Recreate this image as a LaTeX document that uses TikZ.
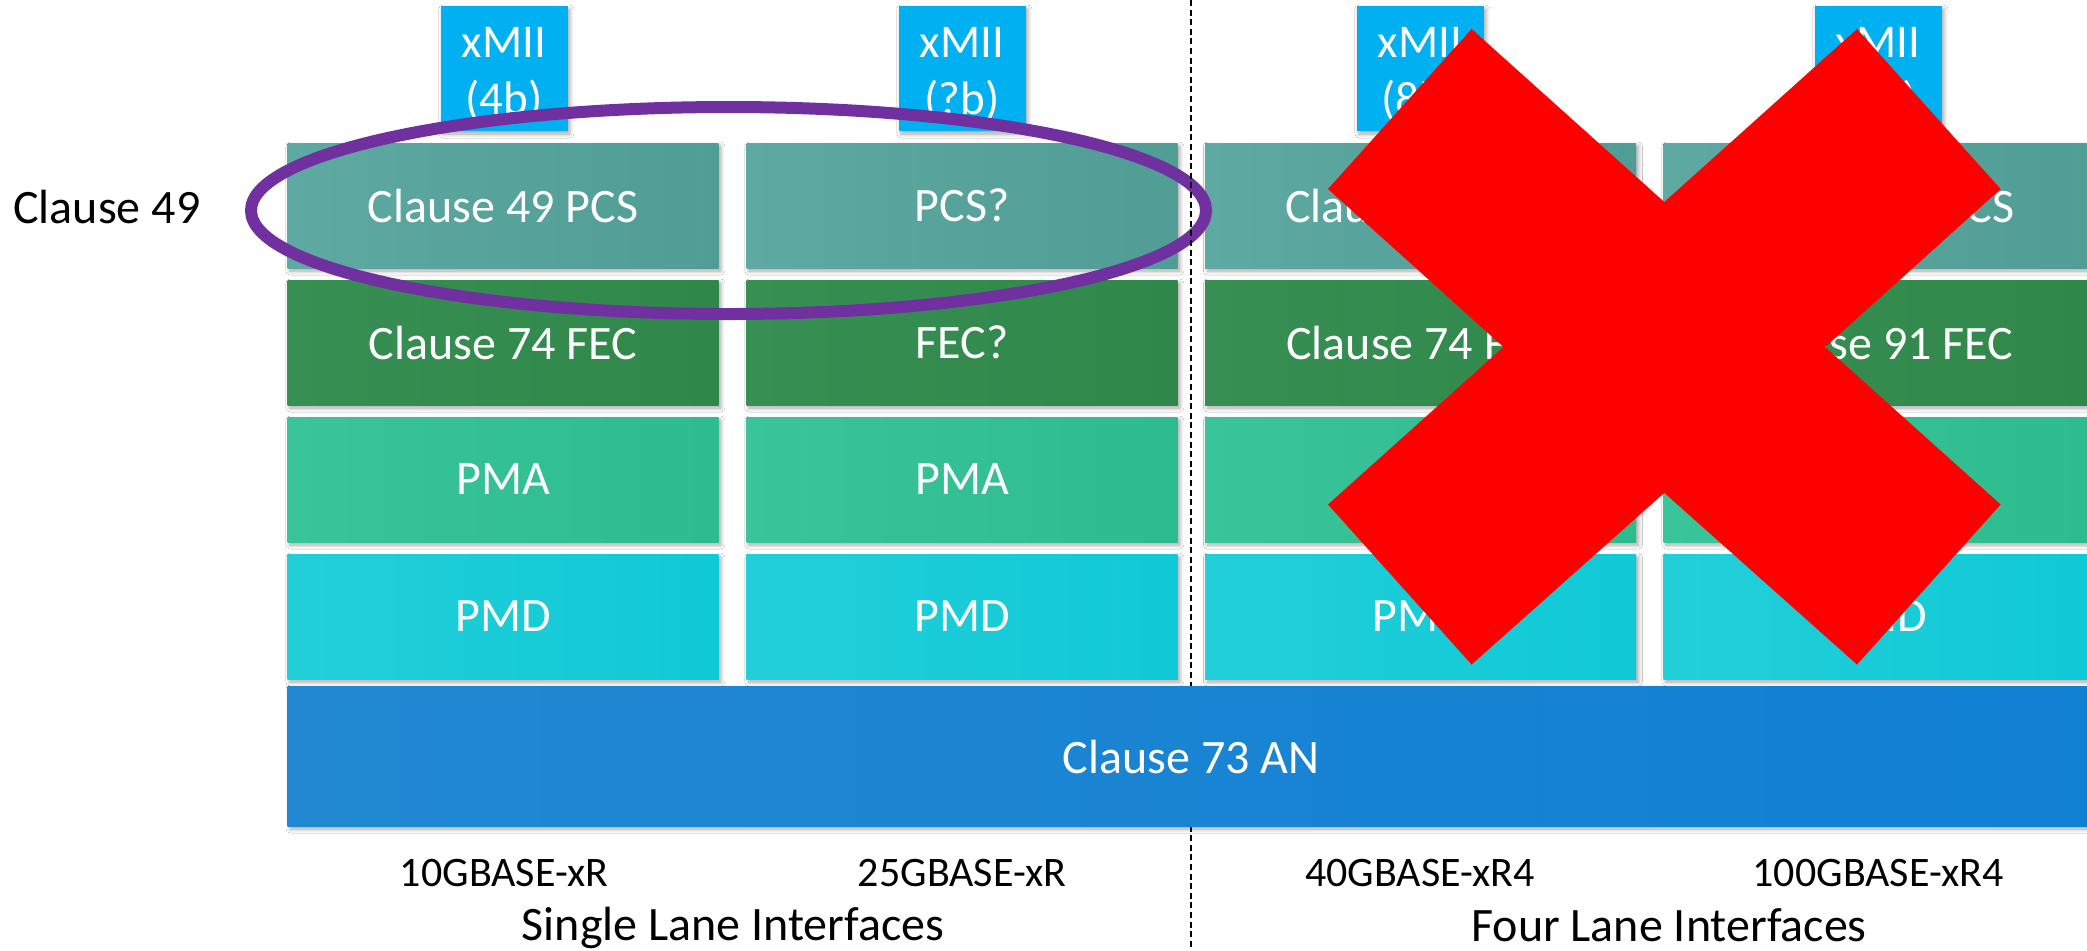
\documentclass[tikz,border=0pt]{standalone}
\usepackage{fontspec}
\setmainfont{Carlito}
\usetikzlibrary{shadows,shadows.blur,shapes.geometric}
\definecolor{xmiiC}{HTML}{00B0F0}
\definecolor{pcsL}{HTML}{5EA9A2}
\definecolor{pcsR}{HTML}{509D96}
\definecolor{fecL}{HTML}{388F53}
\definecolor{fecR}{HTML}{30874A}
\definecolor{pmaL}{HTML}{3AC499}
\definecolor{pmaR}{HTML}{2DBC8E}
\definecolor{pmdL}{HTML}{22CFD9}
\definecolor{pmdR}{HTML}{10C9D6}
\definecolor{anL}{HTML}{2288D2}
\definecolor{anR}{HTML}{1080D3}
\definecolor{ovalC}{HTML}{7030A0}
\definecolor{crossC}{HTML}{FF0000}
\begin{document}
\begin{tikzpicture}[x=0.5pt,y=-0.5pt,
  shade/.style={blur shadow={shadow xshift=1.2pt, shadow yshift=-1.5pt, shadow blur radius=2pt, shadow blur steps=6, shadow opacity=35, shadow blur extra rounding=0pt}},
  layerbox/.style={shade, minimum width=215.5pt, minimum height=62.5pt, inner sep=0pt, text=white, font=\fontsize{24}{29}\selectfont},
  pcsbox/.style={layerbox, left color=pcsL, right color=pcsR},
  fecbox/.style={layerbox, left color=fecL, right color=fecR},
  pmabox/.style={layerbox, left color=pmaL, right color=pmaR},
  pmdbox/.style={layerbox, left color=pmdL, right color=pmdR},
  xmiibox/.style={shade, fill=xmiiC, minimum width=63.5pt, minimum height=62.5pt, inner sep=0pt},
  xmiitext/.style={text=white, font=\fontsize{23.5}{28}\selectfont, inner sep=0pt, anchor=base},
  baselabel/.style={font=\fontsize{21}{25}\selectfont, inner sep=0pt, anchor=base},
  grouplabel/.style={font=\fontsize{24}{29}\selectfont, inner sep=0pt, anchor=base},
]
\clip (0,0) rectangle (2087,950);
\fill[white] (0,0) rectangle (2087,950);

% xMII boxes
\node[xmiibox] (x1) at (504,68.5) {};
\node[xmiibox] (x2) at (962,68.5) {};
\node[xmiibox] (x3) at (1420,68.5) {};
\node[xmiibox] (x4) at (1878,68.5) {};
\node[xmiitext] (x1a) at (504,57) {xMII};
\node[xmiitext] (x1b) at (504,114) {(4b)};
\node[xmiitext] (x2a) at (962,57) {xMII};
\node[xmiitext] (x2b) at (962,114) {(?b)};
\node[xmiitext] (x3a) at (1420,57) {xMII};
\node[xmiitext] (x3b) at (1420,114) {(8b)};
\node[xmiitext] (x4a) at (1878,57) {xMII};
\node[xmiitext] (x4b) at (1878,114) {(8b)};

% layer boxes
\node[pcsbox] (pcs1) at (503,205.5) {Clause 49 PCS};
\node[pcsbox] (pcs2) at (962,205.5) {PCS?};
\node[pcsbox] (pcs3) at (1420.5,205.5) {Clause 82 PCS};
\node[pcsbox] (pcs4) at (1879,205.5) {Clause 82 PCS};

\node[fecbox] (fec1) at (503,342.5) {Clause 74 FEC};
\node[fecbox] (fec2) at (962,342.5) {FEC?};
\node[fecbox] (fec3) at (1420.5,342.5) {Clause 74 FEC};
\node[fecbox] (fec4) at (1879,342.5) {Clause 91 FEC};

\node[pmabox] (pma1) at (503,479.5) {PMA};
\node[pmabox] (pma2) at (962,479.5) {PMA};
\node[pmabox] (pma3) at (1420.5,479.5) {PMA};
\node[pmabox] (pma4) at (1879,479.5) {PMA};

\node[pmdbox] (pmd1) at (503,616.5) {PMD};
\node[pmdbox] (pmd2) at (962,616.5) {PMD};
\node[pmdbox] (pmd3) at (1420.5,616.5) {PMD};
\node[pmdbox] (pmd4) at (1879,616.5) {PMD};

% Clause 49 label
\node[grouplabel, anchor=base west] (c49) at (13,223) {Clause 49};

% oval
\node[draw=ovalC, line width=6pt, ellipse, minimum width=477.5pt, minimum height=103.5pt, inner sep=0pt] (oval) at (728.5,210.5) {};

% dashed divider
\coordinate (dtop) at (1191,0);
\coordinate (dbot) at (1191,950);
\draw[line width=1pt, dash pattern=on 3pt off 1.8pt] (dtop) -- (dbot);

% AN bar
\node[shade, left color=anL, right color=anR, minimum width=910pt, minimum height=70pt, inner sep=0pt] (an) at (1197.6,756) {};
\node[text=white, font=\fontsize{24}{29}\selectfont, inner sep=0pt] (antext) at (1191,757) {Clause 73 AN};

% bottom labels
\node[baselabel] (l10) at (504,886) {10GBASE-xR};
\node[baselabel] (l25) at (962,886) {25GBASE-xR};
\node[baselabel] (l40) at (1420,886) {40GBASE-xR4};
\node[baselabel] (l100) at (1878,886) {100GBASE-xR4};
\node[grouplabel] (single) at (733,940) {Single Lane Interfaces};
\node[grouplabel] (four) at (1669,941) {Four Lane Interfaces};

% red cross
\fill[crossC] (1471.6,29) -- (1664.3,202) -- (1857,29) -- (2000.6,189) -- (1825.1,347)
  -- (2000.6,504.5) -- (1857,664.5) -- (1664.3,492.8) -- (1471.6,664.5) -- (1328,504.5)
  -- (1503.5,347) -- (1328,189) -- cycle;
\end{tikzpicture}
\end{document}
